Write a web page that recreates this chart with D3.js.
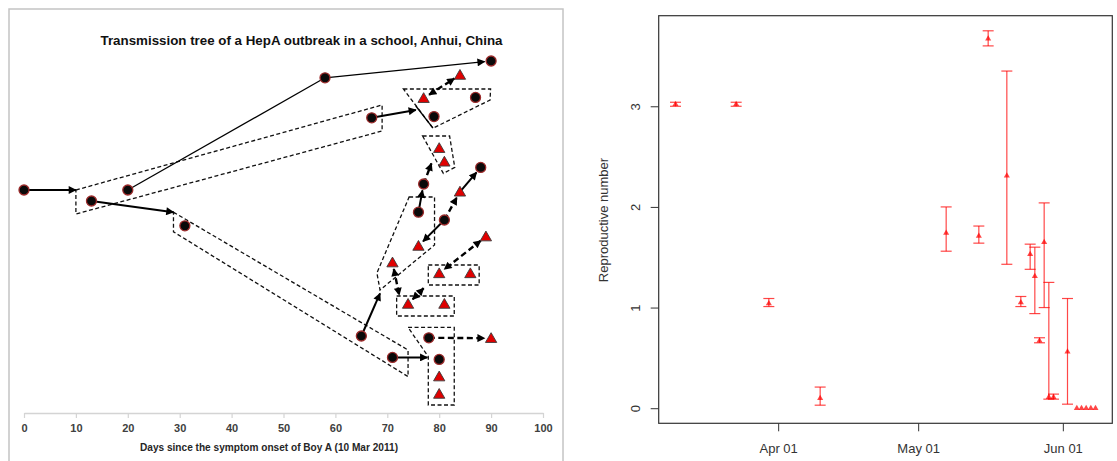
<!DOCTYPE html>
<html>
<head>
<meta charset="utf-8">
<script src="https://cdn.jsdelivr.net/npm/d3@7"></script>
<style>
  body { margin: 0; background: #fff; }
  svg { display: block; }
</style>
</head>
<body>
<script>
// ---- left panel: transmission tree ----
// onset day of each case, and the vertical row it sits on (layout units 0-100)
var caseDay  = [0, 13, 20, 31, 58, 90, 67, 77, 84, 87, 79, 80, 81, 77, 76, 88,
                84, 81, 76, 89, 71, 80, 86, 74, 81, 65, 71, 78, 90, 80, 80, 80];
var caseRow  = [55.75, 53, 55.75, 46.8, 83.8, 88, 73.8, 78.7, 84.5, 78.9, 74.1, 66.2, 62.8, 57.25, 50.2, 61.4,
                55.3, 48.25, 41.75, 44.1, 37.6, 34.9, 34.9, 27.25, 27.25, 19.25, 13.9, 18.8, 18.7, 13.4, 9.1, 4.75];
var caseType = ["c","c","c","c","c","c","c","t","t","c","c","t","t","c","c","c",
                "t","c","t","t","t","t","t","t","t","c","c","c","t","c","t","t"];

// links: from, to (case index or [day,row]), line style, arrow heads
var links = [
  [0, [10, 55.75], "solid", "end"],
  [1, [28.8, 50.2], "solid", "end"],
  [2, 4, "thin", "none"],
  [4, 5, "thin", "end"],
  [6, [75.5, 75.75], "solid", "end"],
  [[75.5, 76.75], [78.8, 71.2], "thin", "none"],
  [7, 8, "dash", "both"],
  [14, 13, "solid", "end"],
  [13, [78.5, 62.4], "dash", "end"],
  [17, 16, "dash", "end"],
  [16, 15, "solid", "end"],
  [17, 18, "solid", "end"],
  [19, 21, "dash", "both"],
  [20, [72.3, 29.5], "dash", "both"],
  [[77, 31.2], 23, "dash", "both"],
  [25, [68.6, 29.9], "solid", "end"],
  [26, [77.7, 13.9], "solid", "end"],
  [27, 28, "dash", "end"]
];

// dashed outlines around clusters
var clusters = [
  [[10, 55.75], [69, 77], [69, 70.5], [10, 49.75]],
  [[73.1, 81], [89.9, 81], [89.8, 78.25], [78.8, 71.2]],
  [[76.8, 69.25], [82, 69.25], [83, 61.4], [80.8, 59.9]],
  [[74.2, 54], [79.1, 54], [79.1, 42], [68.6, 30.75], [68, 35]],
  [[71.8, 29.25], [82.9, 29.25], [82.9, 24.25], [71.8, 24.25]],
  [[77.9, 37], [87.7, 37], [87.7, 32], [77.9, 32]],
  [[74, 21.4], [82.9, 21.4], [82.9, 2], [77.9, 2], [77.9, 14.1]],
  [[28.8, 50.2], [74, 15.75], [74, 9.1], [28.8, 45.3]]
];
var dayTicks = [0, 10, 20, 30, 40, 50, 60, 70, 80, 90, 100];

// ---- right panel: reproductive number ----
var rDates = ["2011-03-10","2011-03-23","2011-03-30","2011-04-10","2011-05-07","2011-05-14","2011-05-16",
              "2011-05-20","2011-05-23","2011-05-25","2011-05-26","2011-05-27","2011-05-28","2011-05-29",
              "2011-05-30","2011-06-02","2011-06-04","2011-06-05","2011-06-06","2011-06-07","2011-06-08"];
var rMean  = [3.02, 3.02, 1.04, 0.10, 1.74, 1.71, 3.67, 2.31, 1.05, 1.53, 1.31, 0.67, 1.65, 0.11, 0.11, 0.56, 0, 0, 0, 0, 0];
var rLow   = [3.00, 3.00, 1.01, 0.03, 1.56, 1.64, 3.60, 1.43, 1.01, 1.38, 0.94, 0.65, 1.00, 0.09, 0.09, 0.04, null, null, null, null, null];
var rHigh  = [3.04, 3.04, 1.09, 0.21, 2.00, 1.81, 3.75, 3.35, 1.11, 1.63, 1.60, 0.70, 2.04, 1.25, 0.14, 1.09, null, null, null, null, null];
var rYTicks = [0, 1, 2, 3];
var rXTicks = ["2011-04-01", "2011-05-01", "2011-06-01"];

var W = 1117, H = 461;
var svg = d3.select('body').append('svg').attr('width', W).attr('height', H);

// arrow heads
var defs = svg.append('defs');
defs.append('marker').attr('id', 'head')
  .attr('viewBox', '0 0 10 10').attr('refX', 9).attr('refY', 5)
  .attr('markerUnits', 'userSpaceOnUse')
  .attr('markerWidth', 9).attr('markerHeight', 8)
  .attr('orient', 'auto-start-reverse')
  .append('path').attr('d', 'M0,0 L10,5 L0,10 Z').attr('fill', '#000');

// frame of left panel
svg.append('rect').attr('x', 9).attr('y', 9).attr('width', 554).attr('height', 470)
  .attr('fill', 'none').attr('stroke', '#c4c4c4').attr('stroke-width', 1.5);

var xL = d3.scaleLinear().domain([0, 100]).range([24, 543]);
var yL = d3.scaleLinear().domain([0, 100]).range([413, 13]);

var left = svg.append('g').attr('class', 'tree');

left.append('text')
  .attr('x', 301.5).attr('y', 45)
  .attr('text-anchor', 'middle')
  .attr('font-family', 'Liberation Sans, Arial, sans-serif')
  .attr('font-weight', 'bold').attr('font-size', 13)
  .attr('textLength', 402).attr('lengthAdjust', 'spacingAndGlyphs')
  .attr('fill', '#111')
  .text('Transmission tree of a HepA outbreak in a school, Anhui, China');

// x axis
var axL = left.append('g').attr('transform', 'translate(0,413)')
  .call(d3.axisBottom(xL).tickValues(dayTicks).tickSize(5).tickSizeOuter(0));
axL.select('.domain').attr('stroke', '#d4d4d4').attr('stroke-width', 1.5);
axL.selectAll('.tick line').attr('stroke', '#d4d4d4').attr('stroke-width', 1.2);
axL.selectAll('.tick text')
  .attr('y', 19).attr('dy', 0)
  .attr('font-family', 'Liberation Sans, Arial, sans-serif')
  .attr('font-weight', 'bold').attr('font-size', 11).attr('fill', '#404040');

left.append('text')
  .attr('x', 269).attr('y', 451)
  .attr('text-anchor', 'middle')
  .attr('font-family', 'Liberation Sans, Arial, sans-serif')
  .attr('font-weight', 'bold').attr('font-size', 10.5)
  .attr('textLength', 258).attr('lengthAdjust', 'spacingAndGlyphs')
  .attr('fill', '#262626')
  .text('Days since the symptom onset of Boy A (10 Mar 2011)');

// cluster outlines
var outline = d3.line().x(d => xL(d[0])).y(d => yL(d[1]));
left.selectAll('path.cluster')
  .data(clusters)
  .enter().append('path')
    .attr('class', 'cluster')
    .attr('d', d => outline(d) + 'Z')
    .attr('fill', 'none').attr('stroke', '#111')
    .attr('stroke-width', 1.3).attr('stroke-dasharray', '4,2.5');

// links
function endPoint(p) {
  if (typeof p === 'number') return { x: xL(caseDay[p]), y: yL(caseRow[p]), node: true };
  return { x: xL(p[0]), y: yL(p[1]), node: false };
}
var linkWidth = { solid: 2, thin: 1.3, dash: 2.4 };
links.forEach(function (l) {
  var a = endPoint(l[0]), b = endPoint(l[1]);
  var dx = b.x - a.x, dy = b.y - a.y, len = Math.sqrt(dx * dx + dy * dy);
  var ux = dx / len, uy = dy / len;
  var sa = a.node ? (l[3] === 'both' ? 6.5 : 0) : 0;
  var sb = b.node ? (l[3] === 'none' ? 0 : 6.5) : 0;
  var ln = left.append('line')
    .attr('x1', a.x + ux * sa).attr('y1', a.y + uy * sa)
    .attr('x2', b.x - ux * sb).attr('y2', b.y - uy * sb)
    .attr('stroke', '#000').attr('stroke-width', linkWidth[l[2]]);
  if (l[2] === 'dash') ln.attr('stroke-dasharray', '6,3.5');
  if (l[3] !== 'none') ln.attr('marker-end', 'url(#head)');
  if (l[3] === 'both') ln.attr('marker-start', 'url(#head)');
});

// cases
var cases = caseDay.map((d, i) => ({ day: d, row: caseRow[i], type: caseType[i] }));
left.selectAll('circle.case')
  .data(cases.filter(d => d.type === 'c'))
  .enter().append('circle')
    .attr('class', 'case')
    .attr('cx', d => xL(d.day)).attr('cy', d => yL(d.row))
    .attr('r', 5)
    .attr('fill', '#0a0a0a').attr('stroke', '#9b2a2a').attr('stroke-width', 1.3);
left.selectAll('path.case')
  .data(cases.filter(d => d.type === 't'))
  .enter().append('path')
    .attr('class', 'case')
    .attr('transform', d => 'translate(' + xL(d.day) + ',' + (yL(d.row) + 1) + ')')
    .attr('d', d3.symbol().type(d3.symbolTriangle).size(55))
    .attr('fill', '#e00000').attr('stroke', '#3a3a3a').attr('stroke-width', 0.9);

// ---- right panel ----
var parse = d3.timeParse('%Y-%m-%d');
var rData = rDates.map((d, i) => ({ date: parse(d), mean: rMean[i], low: rLow[i], high: rHigh[i] }));
var ext = d3.extent(rData, d => d.date);
var pad = (ext[1] - ext[0]) * 0.04;
var xR = d3.scaleTime().domain([new Date(+ext[0] - pad), new Date(+ext[1] + pad)]).range([658.7, 1112.3]);
var yR = d3.scaleLinear().domain([-0.15, 3.9]).range([423.3, 15.7]);

var right = svg.append('g').attr('class', 'rplot');
var font = 'Liberation Sans, Arial, sans-serif';

var ayR = right.append('g').attr('transform', 'translate(658.7,0)')
  .call(d3.axisLeft(yR).tickValues(rYTicks).tickSize(8).tickFormat(d3.format('d')));
ayR.select('.domain').remove();
ayR.selectAll('.tick line').attr('stroke', '#333');
ayR.selectAll('.tick text')
  .attr('x', 0).attr('dy', 0).attr('text-anchor', 'middle')
  .attr('transform', 'translate(-18.7,0) rotate(-90)')
  .attr('font-family', font).attr('font-size', 13).attr('fill', '#333');

var axR = right.append('g').attr('transform', 'translate(0,423.3)')
  .call(d3.axisBottom(xR).tickValues(rXTicks.map(parse)).tickSize(8).tickFormat(d3.timeFormat('%b %d')));
axR.select('.domain').remove();
axR.selectAll('.tick line').attr('stroke', '#333');
axR.selectAll('.tick text')
  .attr('y', 30).attr('dy', 0)
  .attr('font-family', font).attr('font-size', 13).attr('fill', '#333');

right.append('rect')
  .attr('x', 658.7).attr('y', 15.7).attr('width', 1112.3 - 658.7).attr('height', 423.3 - 15.7)
  .attr('fill', 'none').attr('stroke', '#333').attr('stroke-width', 1.2);

right.append('text')
  .attr('transform', 'translate(608,220) rotate(-90)')
  .attr('text-anchor', 'middle')
  .attr('font-family', font).attr('font-size', 13).attr('fill', '#333')
  .text('Reproductive number');

var red = 'rgba(255,0,0,0.72)';
var withCI = rData.filter(d => d.low !== null);
var bars = right.selectAll('g.ci').data(withCI).enter().append('g').attr('class', 'ci');
bars.append('line')
  .attr('x1', d => xR(d.date)).attr('x2', d => xR(d.date))
  .attr('y1', d => yR(d.low)).attr('y2', d => yR(d.high))
  .attr('stroke', red).attr('stroke-width', 1.2);
bars.append('line')
  .attr('x1', d => xR(d.date) - 5.5).attr('x2', d => xR(d.date) + 5.5)
  .attr('y1', d => yR(d.low)).attr('y2', d => yR(d.low))
  .attr('stroke', red).attr('stroke-width', 1.2);
bars.append('line')
  .attr('x1', d => xR(d.date) - 5.5).attr('x2', d => xR(d.date) + 5.5)
  .attr('y1', d => yR(d.high)).attr('y2', d => yR(d.high))
  .attr('stroke', red).attr('stroke-width', 1.2);

right.selectAll('path.pt').data(rData).enter().append('path')
  .attr('class', 'pt')
  .attr('transform', d => 'translate(' + xR(d.date) + ',' + yR(d.mean) + ')')
  .attr('d', d3.symbol().type(d3.symbolTriangle).size(16))
  .attr('fill', red);
</script>
</body>
</html>
